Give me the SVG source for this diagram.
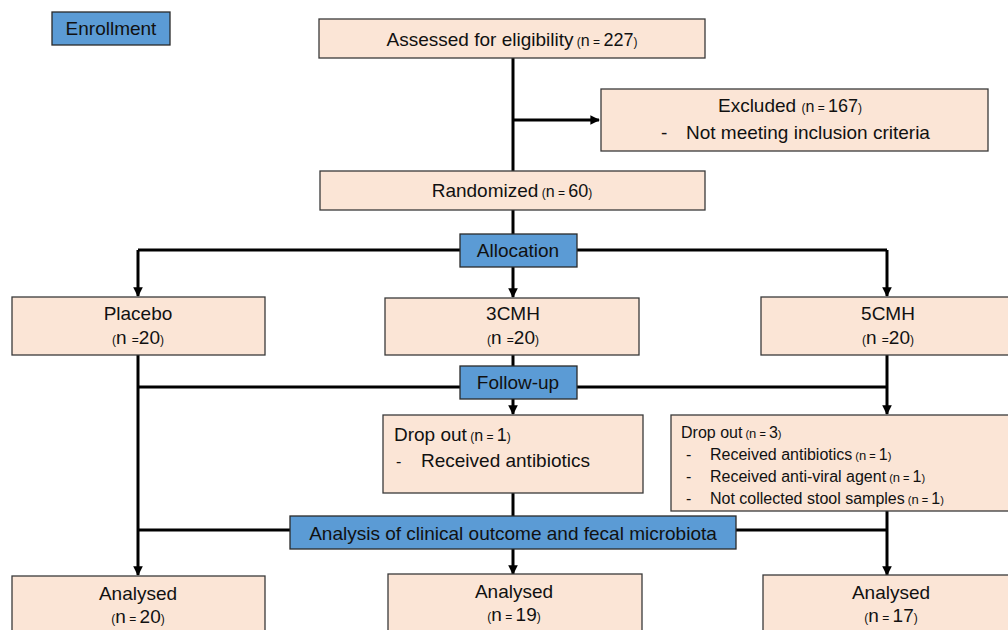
<svg xmlns="http://www.w3.org/2000/svg" width="1008" height="630" viewBox="0 0 1008 630">
<style>
.box{fill:#fbe5d6;stroke:#3a3a3a;stroke-width:1.3}
.hdr{fill:#5b9bd5;stroke:#2a2a2a;stroke-width:1.3}
text{font-family:"Liberation Sans",Arial,sans-serif;fill:#111;font-size:19px}
.c{text-anchor:middle}
.s{font-size:12px}
.m{font-size:16px}
.d{font-size:18px}
.sm{font-size:16px}
.sm .s{font-size:11px}
.sm .m{font-size:13px}
.sm .d{font-size:16px}
.ln{stroke:#000;stroke-width:3;fill:none}
</style>
<defs>
<marker id="ah" viewBox="0 0 10 10" refX="9" refY="5" markerWidth="3.2" markerHeight="3.2" orient="auto" markerUnits="strokeWidth">
<path d="M0,0 L10,5 L0,10 z" fill="#000"/>
</marker>
</defs>
<g id="connectors">
<path class="ln" d="M513,58 V172"/>
<path class="ln" d="M513,120 H599" marker-end="url(#ah)"/>
<path class="ln" d="M513,210 V234"/>
<path class="ln" d="M138,250 H460 M577,250 H887"/>
<path class="ln" d="M138,250 V296" marker-end="url(#ah)"/>
<path class="ln" d="M887,250 V296" marker-end="url(#ah)"/>
<path class="ln" d="M513,267 V297" marker-end="url(#ah)"/>
<path class="ln" d="M513,355 V366"/>
<path class="ln" d="M138,387 H460 M577,387 H887"/>
<path class="ln" d="M513,399 V414" marker-end="url(#ah)"/>
<path class="ln" d="M887,355 V414" marker-end="url(#ah)"/>
<path class="ln" d="M138,355 V575" marker-end="url(#ah)"/>
<path class="ln" d="M138,530 H290 M736,530 H887"/>
<path class="ln" d="M513,493 V516"/>
<path class="ln" d="M513,549 V574" marker-end="url(#ah)"/>
<path class="ln" d="M887,511 V575" marker-end="url(#ah)"/>
</g>
<g id="enrollment">
<rect class="hdr" x="52" y="12" width="118" height="33"/>
<text class="c" x="111" y="35">Enrollment</text>
</g>
<g id="assessed">
<rect class="box" x="319" y="19" width="386" height="39"/>
<text class="c" x="512" y="46">Assessed for eligibility<tspan class="s"> (</tspan><tspan class="m">n</tspan><tspan class="s"> = </tspan><tspan class="d">227</tspan><tspan class="s">)</tspan></text>
</g>
<g id="excluded">
<rect class="box" x="601" y="89" width="387" height="62"/>
<text class="c" x="790" y="112">Excluded <tspan class="s">(</tspan><tspan class="m">n</tspan><tspan class="s"> = </tspan><tspan class="d">167</tspan><tspan class="s">)</tspan></text>
<text x="661" y="139">-</text>
<text x="686" y="139">Not meeting inclusion criteria</text>
</g>
<g id="randomized">
<rect class="box" x="320" y="171" width="385" height="39"/>
<text class="c" x="512" y="197">Randomized<tspan class="s"> (</tspan><tspan class="m">n</tspan><tspan class="s"> = </tspan><tspan class="d">60</tspan><tspan class="s">)</tspan></text>
</g>
<g id="allocation">
<rect class="hdr" x="460" y="234" width="117" height="33"/>
<text class="c" x="518" y="257">Allocation</text>
</g>
<g id="placebo">
<rect class="box" x="12" y="297" width="253" height="58"/>
<text class="c" x="138" y="320">Placebo</text>
<text class="c" x="138" y="344"><tspan class="s">(</tspan>n <tspan class="s">=</tspan>20<tspan class="s">)</tspan></text>
</g>
<g id="cmh3">
<rect class="box" x="385" y="298" width="254" height="57"/>
<text class="c" x="513" y="320">3CMH</text>
<text class="c" x="513" y="344"><tspan class="s">(</tspan>n <tspan class="s">=</tspan>20<tspan class="s">)</tspan></text>
</g>
<g id="cmh5">
<rect class="box" x="761" y="297" width="250" height="58"/>
<text class="c" x="888" y="320">5CMH</text>
<text class="c" x="888" y="344"><tspan class="s">(</tspan>n <tspan class="s">=</tspan>20<tspan class="s">)</tspan></text>
</g>
<g id="followup">
<rect class="hdr" x="460" y="366" width="117" height="33"/>
<text class="c" x="518" y="389">Follow-up</text>
</g>
<g id="dropout1">
<rect class="box" x="383" y="415" width="260" height="78"/>
<text x="394" y="441">Drop out<tspan class="s"> (</tspan><tspan class="m">n</tspan><tspan class="s"> = </tspan><tspan class="d">1</tspan><tspan class="s">)</tspan></text>
<text class="m" x="396" y="467">-</text>
<text x="421" y="467">Received antibiotics</text>
</g>
<g id="dropout3">
<rect class="box" x="671" y="415" width="340" height="96"/>
<text class="sm" x="681" y="438">Drop out<tspan class="s"> (</tspan><tspan class="m">n</tspan><tspan class="s"> = </tspan><tspan class="d">3</tspan><tspan class="s">)</tspan></text>
<text class="sm" x="686" y="460">-</text>
<text class="sm" x="710" y="460">Received antibiotics<tspan class="s"> (</tspan><tspan class="m">n</tspan><tspan class="s"> = </tspan><tspan class="d">1</tspan><tspan class="s">)</tspan></text>
<text class="sm" x="686" y="482">-</text>
<text class="sm" x="710" y="482">Received anti-viral agent<tspan class="s"> (</tspan><tspan class="m">n</tspan><tspan class="s"> = </tspan><tspan class="d">1</tspan><tspan class="s">)</tspan></text>
<text class="sm" x="686" y="504">-</text>
<text class="sm" x="710" y="504">Not collected stool samples<tspan class="s"> (</tspan><tspan class="m">n</tspan><tspan class="s"> = </tspan><tspan class="d">1</tspan><tspan class="s">)</tspan></text>
</g>
<g id="analysis">
<rect class="hdr" x="290" y="516" width="446" height="33"/>
<text class="c" x="513" y="540">Analysis of clinical outcome and fecal microbiota</text>
</g>
<g id="analysed1">
<rect class="box" x="12" y="576" width="253" height="60"/>
<text class="c" x="138" y="600">Analysed</text>
<text class="c" x="138" y="623"><tspan class="s">(</tspan>n<tspan class="s"> = </tspan>20<tspan class="s">)</tspan></text>
</g>
<g id="analysed2">
<rect class="box" x="388" y="574" width="254" height="62"/>
<text class="c" x="514" y="598">Analysed</text>
<text class="c" x="514" y="621"><tspan class="s">(</tspan>n<tspan class="s"> = </tspan>19<tspan class="s">)</tspan></text>
</g>
<g id="analysed3">
<rect class="box" x="763" y="575" width="250" height="61"/>
<text class="c" x="891" y="599">Analysed</text>
<text class="c" x="891" y="622"><tspan class="s">(</tspan>n<tspan class="s"> = </tspan>17<tspan class="s">)</tspan></text>
</g>
</svg>
